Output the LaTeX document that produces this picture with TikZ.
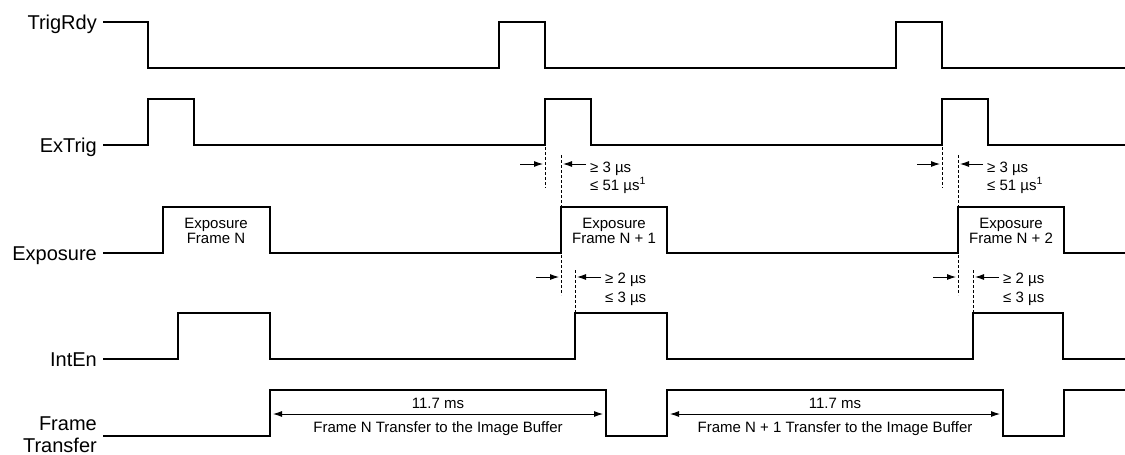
\documentclass[tikz,border=0pt]{standalone}
\usepackage{fontspec}
\setmainfont{Liberation Sans}
\usepackage{tikz}
\usetikzlibrary{arrows.meta,calc}

\begin{document}
\begin{tikzpicture}[x=1pt,y=-1pt,every node/.style={font=\fontsize{15}{15.5}\selectfont,inner sep=0pt},
  sig/.style={line width=2.7pt},
  sname/.style={font=\fontsize{20}{22}\selectfont,anchor=base east},
  guide/.style={line width=0.8pt,dash pattern=on 3pt off 2pt},
  dim/.style={line width=0.9pt,-{Latex[length=9pt,width=6pt]}},
  dimboth/.style={line width=0.9pt,{Latex[length=9pt,width=6pt]}-{Latex[length=9pt,width=6pt]}}]
  \useasboundingbox (0,0) rectangle (1125,455);
  % signal names
  \node[sname] (trigrdy) at (97,29) {TrigRdy};
  \node[sname] (extrig) at (97,152) {ExTrig};
  \node[sname] (expo) at (97,260) {Exposure};
  \node[sname] (inten) at (97,366) {IntEn};
  \node[font=\fontsize{20}{22}\selectfont,anchor=east,align=right] (ftrans) at (97,435) {Frame\\Transfer};
  % TrigRdy
  \draw[sig] (103,22) -- (148,22) -- (148,68) -- (499,68) -- (499,22) -- (545,22) -- (545,68)
        -- (896,68) -- (896,22) -- (942,22) -- (942,68) -- (1125,68);
  % ExTrig
  \draw[sig] (103,145) -- (148,145) -- (148,99) -- (194,99) -- (194,145) -- (545,145) -- (545,99)
        -- (591,99) -- (591,145) -- (942,145) -- (942,99) -- (988,99) -- (988,145) -- (1125,145);
  % Exposure
  \draw[sig] (103,253) -- (163,253) -- (163,207) -- (270,207) -- (270,253) -- (561,253) -- (561,207)
        -- (667,207) -- (667,253) -- (958,253) -- (958,207) -- (1064,207) -- (1064,253) -- (1125,253);
  \node[align=center] (expn) at (216,231) {Exposure\\Frame N};
  \node[align=center] (expn1) at (614,231) {Exposure\\Frame N + 1};
  \node[align=center] (expn2) at (1011,231) {Exposure\\Frame N + 2};
  % IntEn
  \draw[sig] (103,359) -- (178,359) -- (178,313) -- (270,313) -- (270,359) -- (575,359) -- (575,313)
        -- (667,313) -- (667,359) -- (973,359) -- (973,313) -- (1063,313) -- (1063,359) -- (1125,359);
  % Frame Transfer
  \draw[sig] (103,436) -- (270,436) -- (270,390) -- (606,390) -- (606,436) -- (667,436) -- (667,390)
        -- (1003,390) -- (1003,436) -- (1064,436) -- (1064,390) -- (1125,390);
  \coordinate (ftna) at (273,414);
  \coordinate (ftnb) at (603,414);
  \coordinate (ftma) at (670,414);
  \coordinate (ftmb) at (1000,414);
  \draw[dimboth] (ftna) -- (ftnb);
  \draw[dimboth] (ftma) -- (ftmb);
  \node[above=5pt] (tn) at ($(ftna)!0.5!(ftnb)$) {11.7 ms};
  \node[below=7pt] (bn) at ($(ftna)!0.5!(ftnb)$) {Frame N Transfer to the Image Buffer};
  \node[above=5pt] (tm) at ($(ftma)!0.5!(ftmb)$) {11.7 ms};
  \node[below=7pt] (bm) at ($(ftma)!0.5!(ftmb)$) {Frame N + 1 Transfer to the Image Buffer};
  % trigger and integration delays
  \foreach \a/\b/\c [count=\i] in {545/561/575, 942/958/973} {
    \draw[guide] (\a,147) -- (\a,188);
    \draw[guide] (\b,155) -- (\b,295);
    \draw[guide] (\c,270) -- (\c,313);
    \coordinate (ga\i) at (\a,164);
    \coordinate (gb\i) at (\b,164);
    \coordinate (hb\i) at (\b,277);
    \coordinate (hc\i) at (\c,277);
    \draw[dim] ([xshift=-25pt]ga\i) -- ([xshift=-2pt]ga\i);
    \draw[dim] ([xshift=25pt]gb\i) -- ([xshift=2pt]gb\i);
    \draw[dim] ([xshift=-25pt]hb\i) -- ([xshift=-2pt]hb\i);
    \draw[dim] ([xshift=26pt]hc\i) -- ([xshift=2pt]hc\i);
    \node[anchor=base west] (trmin\i) at (\b+29,172) {≥ 3 µs};
    \node[anchor=base west] (trmax\i) at (\b+29,190) {≤ 51 µs\textsuperscript{1}};
    \node[anchor=base west] (inmin\i) at (\c+30,283) {≥ 2 µs};
    \node[anchor=base west] (inmax\i) at (\c+30,302) {≤ 3 µs};
  }
\end{tikzpicture}
\end{document}
